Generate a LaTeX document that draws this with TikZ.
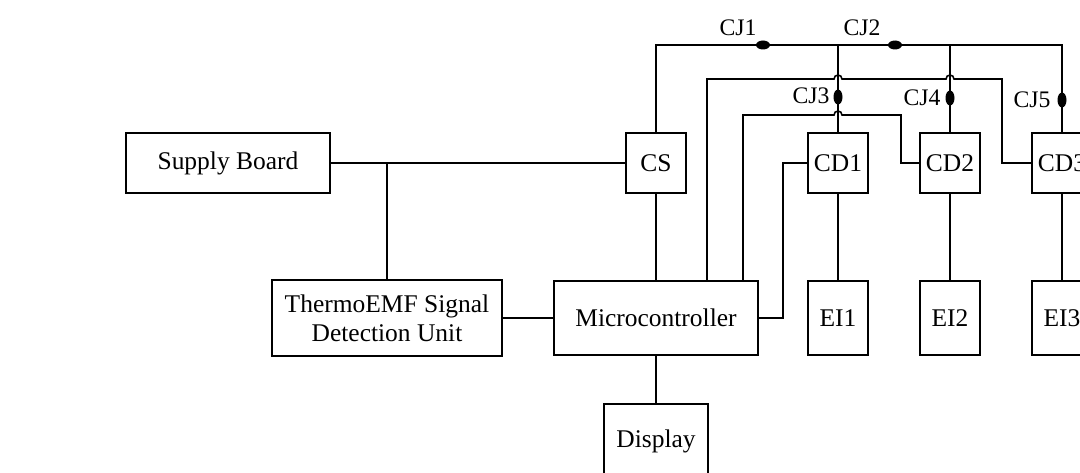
\documentclass[tikz,border=0pt]{standalone}
\usepackage{fontspec}
\setmainfont{Liberation Serif}
\begin{document}
\begin{tikzpicture}[x=0.02cm,y=-0.02cm,line width=0.9pt,
  blk/.style={draw,inner sep=0pt,align=center,font=\fontsize{14.5}{16.5}\selectfont},
  sq/.style={blk,minimum width=1.2cm,minimum height=1.2cm},
  tall/.style={blk,minimum width=1.2cm,minimum height=1.48cm},
  cj/.style={inner sep=0pt,font=\fontsize{13.5}{16}\selectfont}]
\useasboundingbox (0,0) rectangle (1080,473);
\clip (0,0) rectangle (1080,473);
% blocks
\node[blk,minimum width=4.08cm,minimum height=1.2cm] (sb) at (228,163) {Supply Board};
\node[blk,minimum width=4.6cm,minimum height=1.52cm] (tu) at (387,318) {ThermoEMF Signal\\Detection Unit};
\node[blk,minimum width=4.08cm,minimum height=1.48cm] (mc) at (656,318) {Microcontroller};
\node[blk,minimum width=2.08cm,minimum height=1.48cm] (disp) at (656,441) {Display};
\node[sq] (cs) at (656,163) {CS};
\node[sq] (cd1) at (838,163) {CD1};
\node[sq] (cd2) at (950,163) {CD2};
\node[sq] (cd3) at (1062,163) {CD3};
\node[tall] (ei1) at (838,318) {EI1};
\node[tall] (ei2) at (950,318) {EI2};
\node[tall] (ei3) at (1062,318) {EI3};
\coordinate (top) at (0,45);
\coordinate (b2) at (707,79);
\coordinate (b3) at (743,115);
% supply and signal
\draw (sb.east) -- (cs.west);
\draw (tu.north) -- (tu.north |- sb.east);
\draw (tu.east) -- (mc.west);
\draw (mc.south) -- (disp.north);
\draw (cs.south) -- (mc.north);
% junction bus
\draw (cs.north) |- (top -| cd3.north) -- (cd3.north);
\foreach \n in {cd1,cd2} \draw (\n.north) -- (\n.north |- top);
\foreach \i in {1,2,3} \draw (cd\i.south) -- (ei\i.north);
% control lines, with hops
\draw (b2 |- mc.north) -- (b2) -- (834,79) arc (180:0:0.08cm) -- (946,79) arc (180:0:0.08cm) -- (1002,79) |- (cd3.west);
\draw (b3 |- mc.north) -- (b3) -- (834,115) arc (180:0:0.08cm) -- (901,115) |- (cd2.west);
\draw (mc.east) -- ++(24,0) |- (cd1.west);
% cold junctions
\fill (763,45) ellipse (0.14cm and 0.09cm);
\fill (895,45) ellipse (0.14cm and 0.09cm);
\fill (838,97) ellipse (0.09cm and 0.15cm);
\fill (950,98) ellipse (0.09cm and 0.15cm);
\fill (1062,100) ellipse (0.09cm and 0.15cm);
\node[cj] (cj1) at (738,28) {CJ1};
\node[cj] (cj2) at (862,28) {CJ2};
\node[cj] (cj3) at (811,96) {CJ3};
\node[cj] (cj4) at (922,98) {CJ4};
\node[cj] (cj5) at (1032,100) {CJ5};
\end{tikzpicture}
\end{document}
